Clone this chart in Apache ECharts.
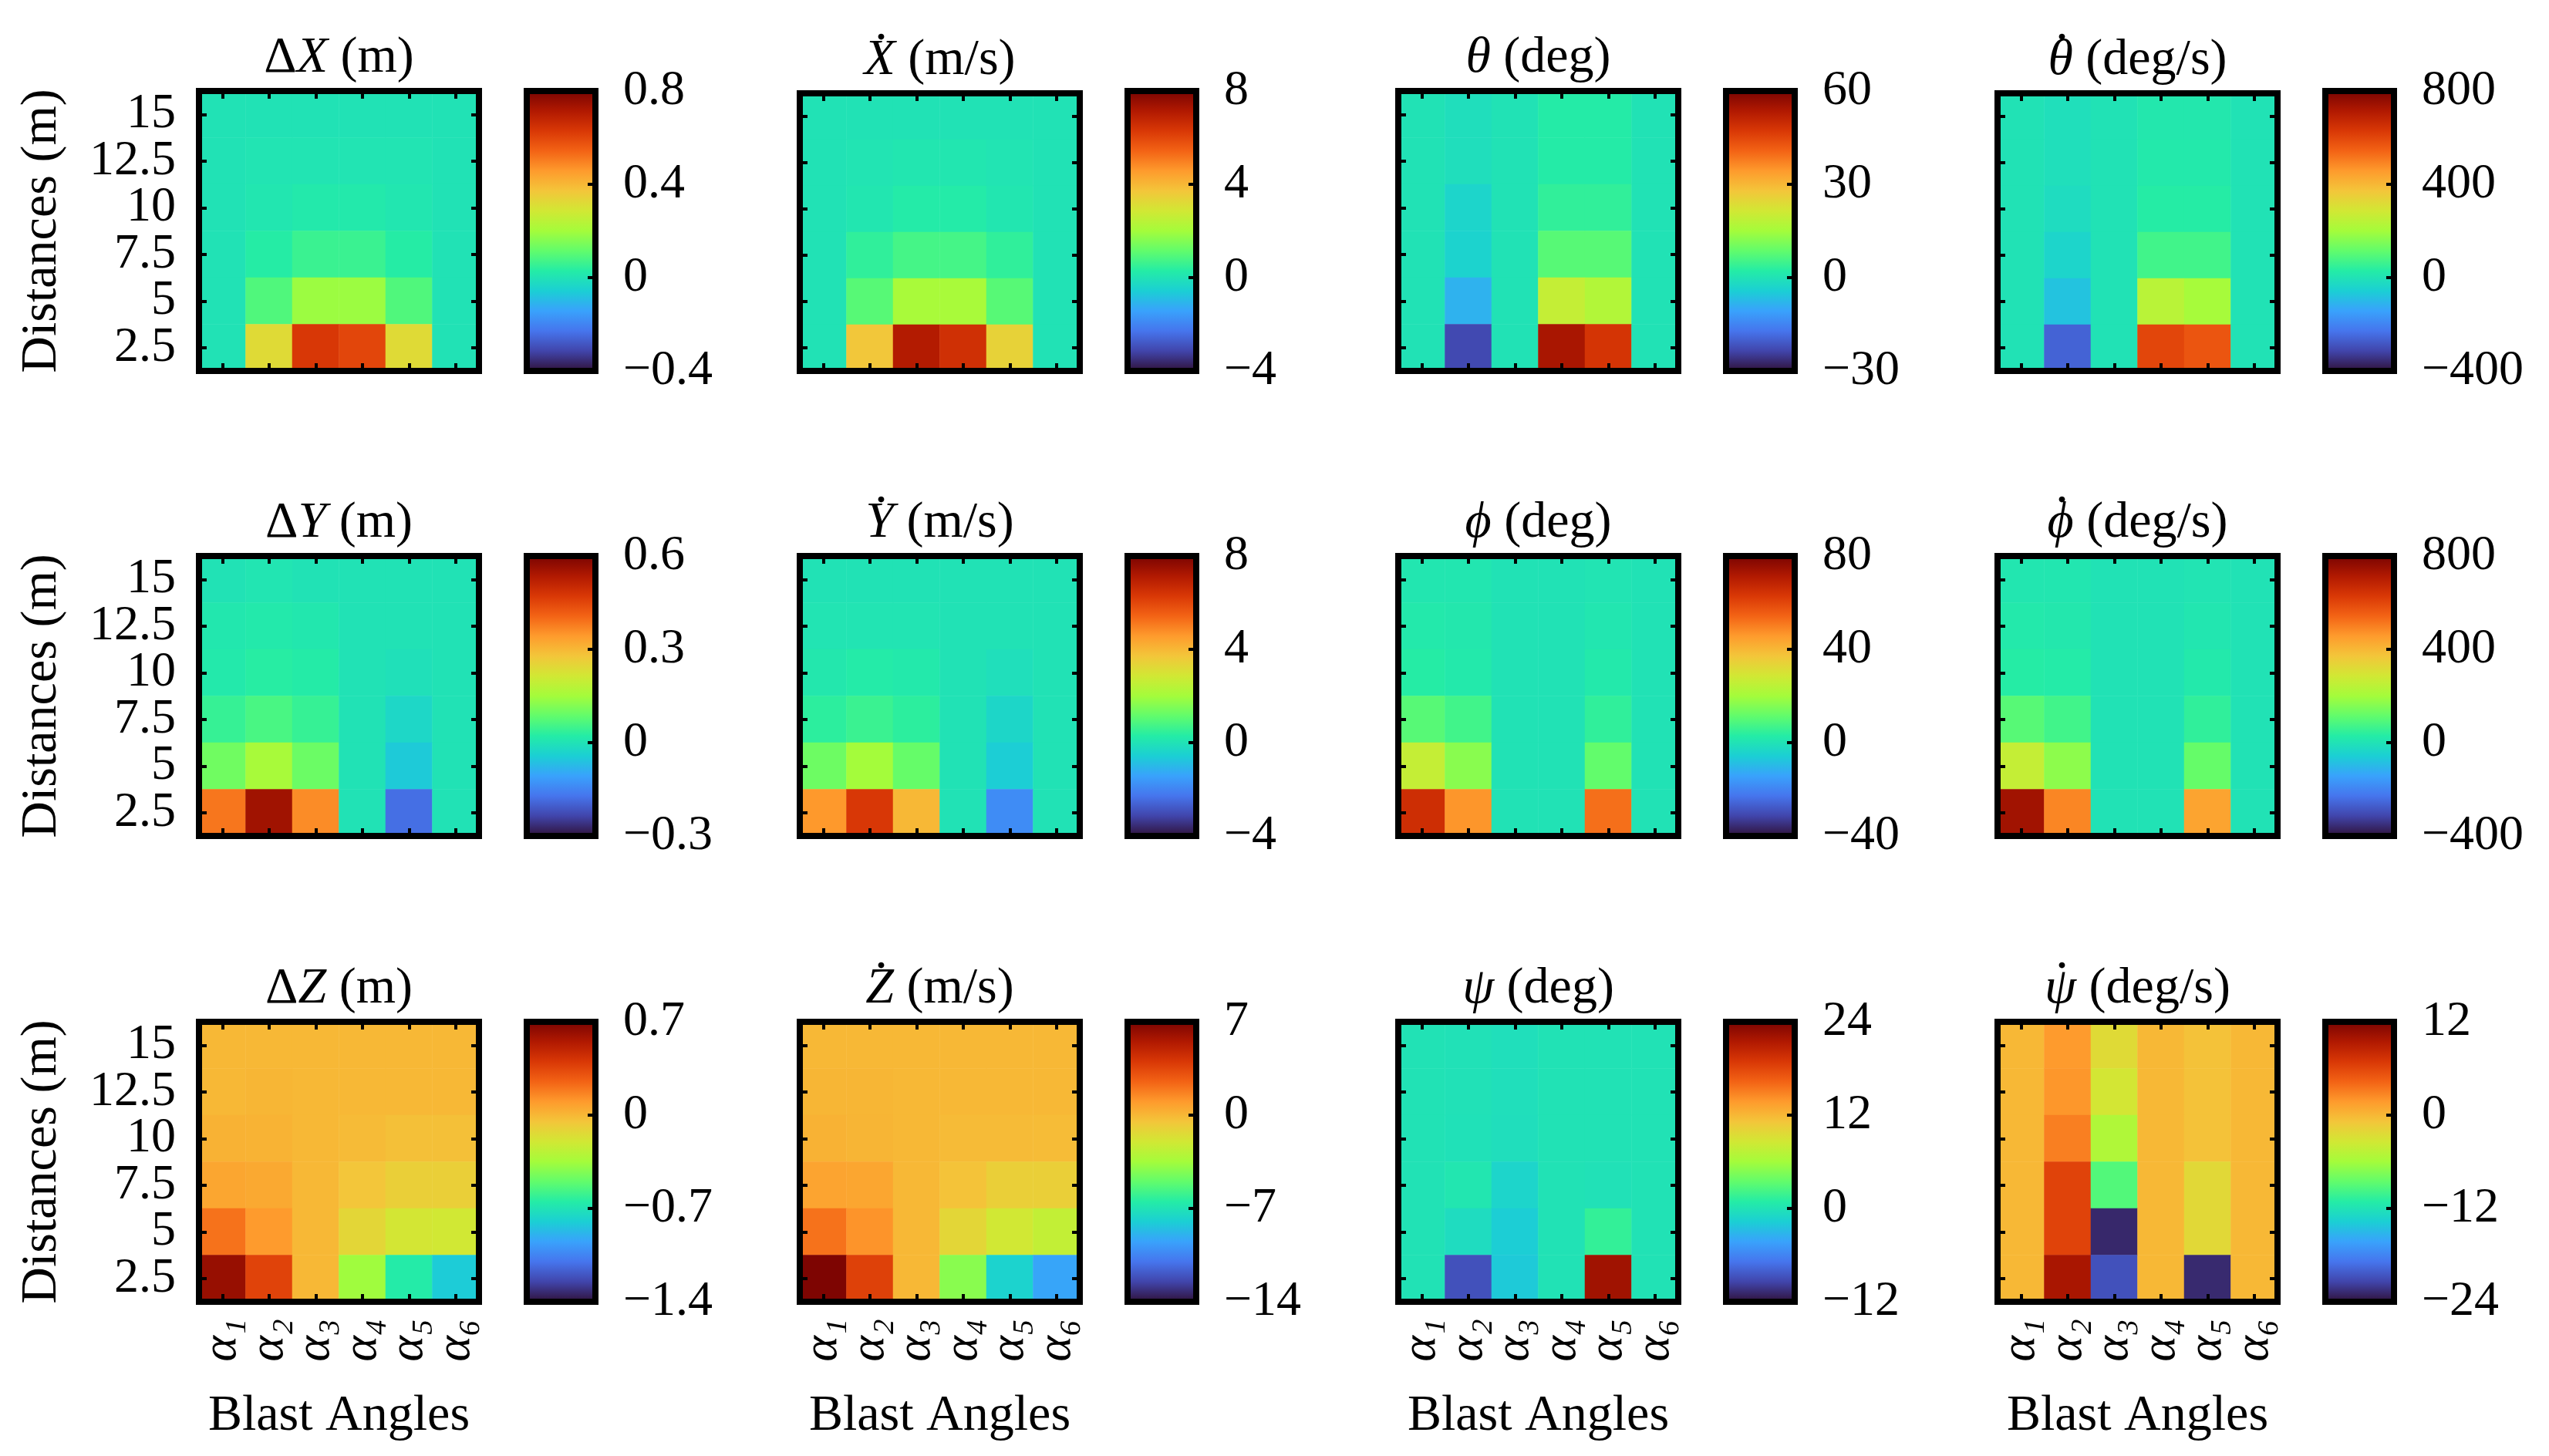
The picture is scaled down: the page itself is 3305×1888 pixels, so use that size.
<!DOCTYPE html>
<html>
<head>
<meta charset="utf-8">
<script src="https://cdn.jsdelivr.net/npm/echarts@6/dist/echarts.min.js"></script>
<style>
  html, body { margin: 0; padding: 0; background: #fff; }
  #chart { width: 3305px; height: 1888px; }
</style>
</head>
<body>
<div id="chart"></div>
<script>
// categories
var angles = ['α₁', 'α₂', 'α₃', 'α₄', 'α₅', 'α₆'];
var distances = ['2.5', '5', '7.5', '10', '12.5', '15'];

// values, rows listed top (15 m) to bottom (2.5 m), columns α1..α6
var dX = [
  [0, 0, 0, 0, 0, 0],
  [0, 0.005, 0.005, 0.005, 0.005, 0],
  [0, 0.01, 0.02, 0.02, 0.01, 0],
  [0, 0.03, 0.06, 0.06, 0.03, 0],
  [0, 0.09, 0.19, 0.19, 0.09, 0],
  [0, 0.32, 0.63, 0.60, 0.32, 0]
];
var dXdot = [
  [0, 0, 0, 0, 0, 0],
  [0, 0.05, 0.1, 0.1, 0.05, 0],
  [0, 0.1, 0.25, 0.25, 0.1, 0],
  [0, 0.45, 0.75, 0.75, 0.45, 0],
  [0, 1.0, 2.1, 2.1, 1.0, 0],
  [0, 3.7, 7.1, 6.5, 3.4, 0]
];
var theta = [
  [0, -1, 0, 2, 2, 0],
  [0, -1, 0, 2, 2, 0],
  [0, -3, 0, 3.5, 3.5, 0],
  [0, -3.5, 0, 7.5, 7.5, 0],
  [0, -8.5, 0, 19.5, 17, 0],
  [0, -23, 0, 54.5, 48, 0]
];
var thetaDot = [
  [0, -10, 0, 15, 15, 0],
  [0, -10, 0, 20, 20, 0],
  [0, -20, 0, 30, 30, 0],
  [0, -40, 0, 70, 70, 0],
  [0, -80, 0, 240, 205, 0],
  [0, -260, 0, 600, 570, 0]
];
var dY = [
  [0, 0.005, 0, 0, 0, 0],
  [0.01, 0.015, 0.01, 0, 0, 0],
  [0.015, 0.025, 0.02, 0, -0.005, 0],
  [0.04, 0.06, 0.04, 0, -0.025, 0],
  [0.10, 0.155, 0.095, 0, -0.05, 0],
  [0.385, 0.555, 0.36, 0, -0.18, 0]
];
var dYdot = [
  [0, 0, 0, 0, 0, 0],
  [0.05, 0.05, 0.05, 0, 0, 0],
  [0.15, 0.25, 0.2, 0, -0.1, 0],
  [0.4, 0.6, 0.4, 0, -0.35, 0],
  [1.3, 2.0, 1.2, 0, -0.6, 0],
  [4.6, 6.3, 4.0, 0, -1.85, 0]
];
var phi = [
  [1, 1, 0, 0, 0.5, 0],
  [2, 1.5, 0, 0, 1, 0],
  [3, 2, 0, 0, 2, 0],
  [10, 7, 0, 0, 4.5, 0],
  [26, 16.5, 0, 0, 11.5, 0],
  [65.5, 46.5, 0, 0, 52.5, 0]
];
var phiDot = [
  [10, 10, 0, 0, 5, 0],
  [20, 15, 0, 0, 10, 0],
  [30, 25, 0, 0, 20, 0],
  [100, 70, 0, 0, 45, 0],
  [260, 170, 0, 0, 120, 0],
  [740, 490, 0, 0, 440, 0]
];
var dZ = [
  [0, 0, 0, 0, 0, 0],
  [0, 0.005, 0, 0, 0, 0],
  [0.02, 0.015, 0, -0.01, -0.03, -0.03],
  [0.06, 0.05, 0, -0.05, -0.09, -0.09],
  [0.21, 0.10, 0, -0.12, -0.19, -0.2],
  [0.62, 0.36, 0, -0.36, -0.655, -0.81]
];
var dZdot = [
  [0, 0, 0, 0, 0, 0],
  [0.05, 0.05, 0, 0, 0, 0],
  [0.2, 0.1, 0, -0.1, -0.1, -0.15],
  [0.7, 0.6, 0, -0.4, -0.9, -0.9],
  [2.1, 1.2, 0, -1.2, -2.0, -2.5],
  [6.9, 3.7, 0, -4.1, -7.8, -9.4]
];
var psi = [
  [0, -0.1, -0.3, 0, 0, 0],
  [0, -0.1, -0.3, 0, 0, 0],
  [0, -0.15, -0.4, 0, 0, 0],
  [0, 0.3, -1.2, 0, -0.1, 0],
  [0, -0.6, -1.8, 0, 1.5, 0],
  [0, -8.8, -2.0, 0, 22.2, 0]
];
var psiDot = [
  [0, 1.7, -2.4, 0, -0.6, 0],
  [0, 1.9, -3.3, 0, -0.6, 0],
  [0, 3.0, -5.3, 0, -0.6, 0],
  [0, 6.2, -9.2, 0, -2.2, 0],
  [0, 6.2, -22.9, 0, -2.2, 0],
  [0, 9.8, -20.8, 0, -22.8, 0]
];

// colorbar tick labels
var tkDX = [-0.4, 0, 0.4, 0.8];
var tkDXdot = [-4, 0, 4, 8];
var tkTheta = [-30, 0, 30, 60];
var tkThetaDot = [-400, 0, 400, 800];
var tkDY = [-0.3, 0, 0.3, 0.6];
var tkDYdot = [-4, 0, 4, 8];
var tkPhi = [-40, 0, 40, 80];
var tkPhiDot = [-400, 0, 400, 800];
var tkDZ = [-1.4, -0.7, 0, 0.7];
var tkDZdot = [-14, -7, 0, 7];
var tkPsi = [-12, 0, 12, 24];
var tkPsiDot = [-24, -12, 0, 12];

// title: pre = upright prefix, sym = italic symbol, dot = time derivative, unit
var panels = [
  { pre: 'Δ', sym: 'X', dot: false, unit: ' (m)', values: dX, ticks: tkDX },
  { pre: '', sym: 'X', dot: true, unit: ' (m/s)', values: dXdot, ticks: tkDXdot },
  { pre: '', sym: 'θ', dot: false, unit: ' (deg)', values: theta, ticks: tkTheta },
  { pre: '', sym: 'θ', dot: true, unit: ' (deg/s)', values: thetaDot, ticks: tkThetaDot },
  { pre: 'Δ', sym: 'Y', dot: false, unit: ' (m)', values: dY, ticks: tkDY },
  { pre: '', sym: 'Y', dot: true, unit: ' (m/s)', values: dYdot, ticks: tkDYdot },
  { pre: '', sym: 'ϕ', dot: false, unit: ' (deg)', values: phi, ticks: tkPhi },
  { pre: '', sym: 'ϕ', dot: true, unit: ' (deg/s)', values: phiDot, ticks: tkPhiDot },
  { pre: 'Δ', sym: 'Z', dot: false, unit: ' (m)', values: dZ, ticks: tkDZ },
  { pre: '', sym: 'Z', dot: true, unit: ' (m/s)', values: dZdot, ticks: tkDZdot },
  { pre: '', sym: 'ψ', dot: false, unit: ' (deg)', values: psi, ticks: tkPsi },
  { pre: '', sym: 'ψ', dot: true, unit: ' (deg/s)', values: psiDot, ticks: tkPsiDot }
];

// turbo colormap
var turbo = ['#30123b', '#4145ab', '#4675ed', '#39a2fc', '#1bcfd4', '#24eca6', '#61fc6c',
  '#a4fc3b', '#d1e834', '#f3c63a', '#fe9b2d', '#f36315', '#d93806', '#b11901', '#7a0402'];

var FONT = "'Liberation Serif', serif";
var TS = 66;
var DOT_LH = 18;
var colLeft = [254, 1033, 1809, 2586];
var rowTop = [114, 717, 1321];
var BOX = 371, BW = 8, CB_OFF = 425, CB_W = 97;

var frameLine = { show: true, onZero: false, lineStyle: { color: '#000', width: BW, cap: 'square' } };
var tickIn = { show: true, inside: true, alignWithLabel: true, interval: 0, length: 10, lineStyle: { color: '#000', width: 4 } };
var noTick = { show: false };
var noLabel = { show: false };

var measure = document.createElement('canvas').getContext('2d');
function textWidth(s, italic) {
  measure.font = (italic ? 'italic ' : '') + TS + 'px ' + FONT;
  return measure.measureText(s).width;
}

// title as rich text; the derivative dot is a thin line above the symbol
function titleOf(p) {
  var symW = textWidth(p.sym, true);
  var restW = textWidth(p.unit, false);
  var rich = {
    r: { fontFamily: FONT, fontSize: TS, lineHeight: 72, color: '#000' },
    i: { fontFamily: FONT, fontSize: TS, lineHeight: 72, color: '#000', fontStyle: 'italic' },
    d: { fontFamily: FONT, fontSize: TS, lineHeight: DOT_LH, color: '#000', width: symW + 4, align: 'center' },
    s: { fontFamily: FONT, fontSize: TS, lineHeight: DOT_LH, width: restW - 4 }
  };
  var main = (p.pre ? '{r|' + p.pre + '}' : '') + '{i|' + p.sym + '}{r|' + p.unit + '}';
  var text = p.dot ? '{d|.}{s| }\n' + main : main;
  return { text: text, rich: rich };
}

function fmt(v) {
  return v < 0 ? '\u2212' + Math.abs(v) : String(v);
}

var grids = [], xAxes = [], yAxes = [], series = [], visualMaps = [];

panels.forEach(function (p, i) {
  var r = Math.floor(i / 4), c = i % 4;
  var hx = colLeft[c], hy = rowTop[r];
  var mn = p.ticks[0], mx = p.ticks[p.ticks.length - 1], step = p.ticks[1] - p.ticks[0];
  var t = titleOf(p);

  // heatmap grid
  var g = grids.length;
  grids.push({ left: hx + BW / 2, top: hy + BW / 2, width: BOX - BW, height: BOX - BW });
  var xb = xAxes.length;
  xAxes.push({
    type: 'category', gridIndex: g, position: 'bottom', data: angles, z: 10,
    axisLine: frameLine, axisTick: tickIn,
    axisLabel: {
      show: r === 2, interval: 0, rotate: 90, margin: 22, fontFamily: FONT, fontSize: 64,
      fontStyle: 'italic', color: '#000'
    },
    name: r === 2 ? 'Blast Angles' : '', nameLocation: 'middle', nameGap: 116,
    nameTextStyle: { fontFamily: FONT, fontSize: TS, color: '#000' }
  });
  xAxes.push({
    type: 'category', gridIndex: g, position: 'top', data: angles, z: 10,
    axisLine: frameLine, axisTick: tickIn, axisLabel: noLabel,
    name: t.text, nameLocation: 'middle', nameGap: 6,
    nameTextStyle: { fontFamily: FONT, fontSize: TS, color: '#000', rich: t.rich }
  });
  var yl = yAxes.length;
  yAxes.push({
    type: 'category', gridIndex: g, position: 'left', data: distances, z: 10,
    axisLine: frameLine, axisTick: tickIn,
    axisLabel: { show: c === 0, interval: 0, margin: 30, fontFamily: FONT, fontSize: 64, color: '#000' },
    name: c === 0 ? 'Distances (m)' : '', nameLocation: 'middle', nameGap: 170,
    nameTextStyle: { fontFamily: FONT, fontSize: TS, color: '#000' }
  });
  yAxes.push({
    type: 'category', gridIndex: g, position: 'right', data: distances, z: 10,
    axisLine: frameLine, axisTick: tickIn, axisLabel: noLabel
  });

  var cells = [];
  p.values.forEach(function (row, ri) {
    row.forEach(function (v, ci) {
      cells.push([ci, distances.length - 1 - ri, v]);
    });
  });
  var si = series.length;
  series.push({
    type: 'heatmap', xAxisIndex: xb, yAxisIndex: yl, data: cells,
    itemStyle: { borderWidth: 0 }, emphasis: { disabled: true }
  });
  visualMaps.push({
    type: 'continuous', show: false, seriesIndex: si, dimension: 2,
    min: mn, max: mx, inRange: { color: turbo }
  });

  // colorbar grid
  var cg = grids.length;
  grids.push({ left: hx + CB_OFF + BW / 2, top: hy + BW / 2, width: CB_W - BW, height: BOX - BW });
  var cx = xAxes.length;
  xAxes.push({
    type: 'category', gridIndex: cg, position: 'bottom', data: [''], z: 10,
    axisLine: frameLine, axisTick: noTick, axisLabel: noLabel
  });
  xAxes.push({
    type: 'category', gridIndex: cg, position: 'top', data: [''], z: 10,
    axisLine: frameLine, axisTick: noTick, axisLabel: noLabel
  });
  var cy = yAxes.length;
  yAxes.push({
    type: 'value', gridIndex: cg, position: 'left', min: mn, max: mx, interval: step, z: 10,
    axisLine: frameLine, axisTick: noTick, axisLabel: noLabel, splitLine: { show: false }
  });
  yAxes.push({
    type: 'value', gridIndex: cg, position: 'right', min: mn, max: mx, interval: step, z: 10,
    axisLine: frameLine,
    axisTick: { show: true, inside: true, length: 10, lineStyle: { color: '#000', width: 4 } },
    axisLabel: { margin: 36, fontFamily: FONT, fontSize: 64, color: '#000', formatter: fmt },
    splitLine: { show: false }
  });
  series.push({
    type: 'custom', xAxisIndex: cx, yAxisIndex: cy, data: [[0, mn]], silent: true,
    renderItem: function (params) {
      var cs = params.coordSys;
      var stops = turbo.map(function (col, k) {
        return { offset: k / (turbo.length - 1), color: col };
      });
      return {
        type: 'rect',
        shape: { x: cs.x, y: cs.y, width: cs.width, height: cs.height },
        style: { fill: new echarts.graphic.LinearGradient(0, 1, 0, 0, stops) }
      };
    }
  });
});

var chart = echarts.init(document.getElementById('chart'));
chart.setOption({
  animation: false,
  backgroundColor: '#fff',
  textStyle: { fontFamily: FONT, color: '#000' },
  grid: grids,
  xAxis: xAxes,
  yAxis: yAxes,
  visualMap: visualMaps,
  series: series
});
</script>
</body>
</html>
